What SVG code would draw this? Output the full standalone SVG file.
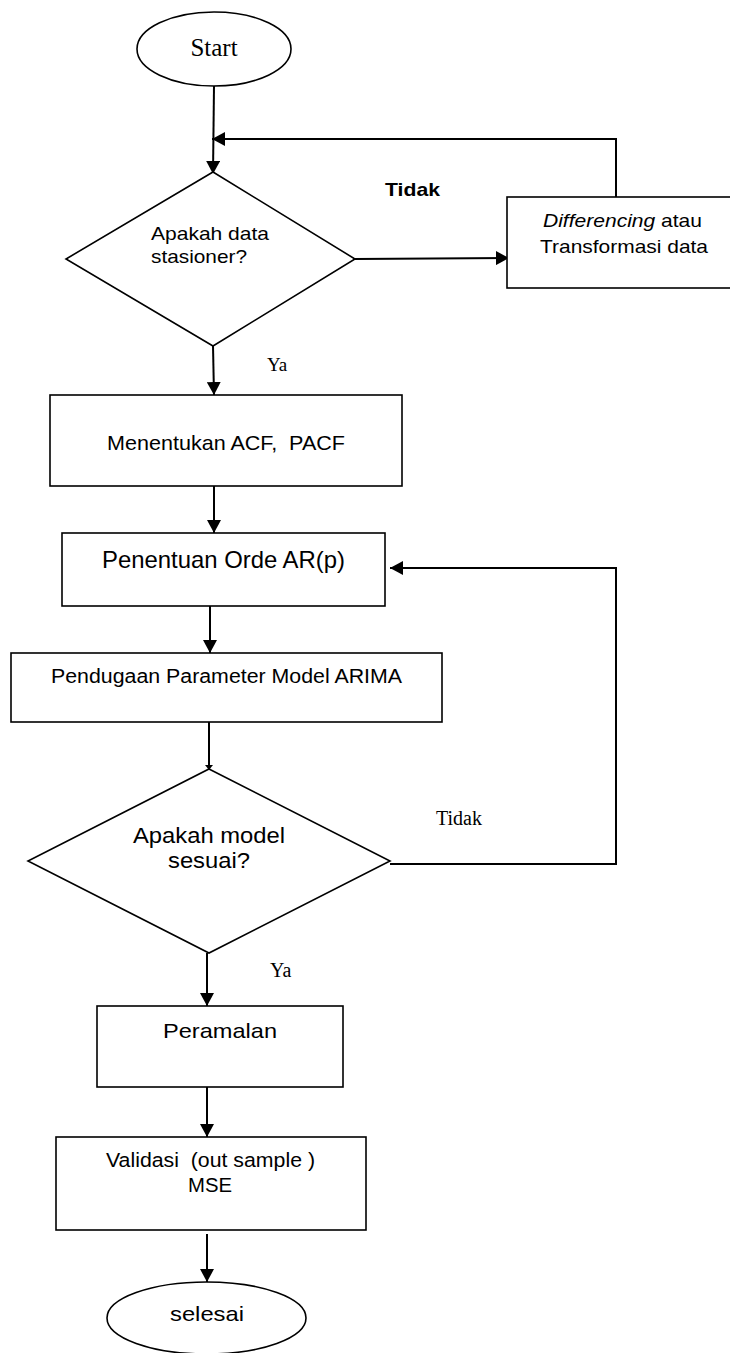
<svg xmlns="http://www.w3.org/2000/svg" width="730" height="1353" viewBox="0 0 730 1353">
<style>
.shape{fill:#fff;stroke:#000;stroke-width:1.6}
.conn{fill:none;stroke:#000;stroke-width:2}
.sans{font-family:"Liberation Sans",Arial,sans-serif;fill:#000}
.serif{font-family:"Liberation Serif","Times New Roman",serif;fill:#000}
</style>
<defs>
<marker id="arr" markerUnits="userSpaceOnUse" markerWidth="14" markerHeight="14" refX="13" refY="7" orient="auto">
<path d="M0,0 L13,7 L0,14 Z" fill="#000"/>
</marker>
<marker id="arrs" markerUnits="userSpaceOnUse" markerWidth="6" markerHeight="8" refX="5" refY="4" orient="auto">
<path d="M0,0 L5,4 L0,8 Z" fill="#000"/>
</marker>
</defs>
<rect width="730" height="1353" fill="#fff"/>
<g id="connectors">
<line class="conn" x1="214" y1="86" x2="213" y2="174" marker-end="url(#arr)"/>
<polyline class="conn" points="616,197 616,139 212,139" marker-end="url(#arr)"/>
<line class="conn" x1="355" y1="259" x2="509" y2="258" marker-end="url(#arr)"/>
<line class="conn" x1="213" y1="346" x2="214" y2="395" marker-end="url(#arr)"/>
<line class="conn" x1="214" y1="486" x2="214" y2="533" marker-end="url(#arr)"/>
<line class="conn" x1="210" y1="606" x2="210" y2="653" marker-end="url(#arr)"/>
<line class="conn" x1="209" y1="722" x2="209" y2="770" marker-end="url(#arrs)"/>
<polyline class="conn" points="390,864 616,864 616,568 390,568" marker-end="url(#arr)"/>
<line class="conn" x1="207" y1="953" x2="207" y2="1006" marker-end="url(#arr)"/>
<line class="conn" x1="207" y1="1087" x2="207" y2="1137" marker-end="url(#arr)"/>
<line class="conn" x1="207" y1="1234" x2="207" y2="1282" marker-end="url(#arr)"/>
</g>
<g id="label-tidak1"><text class="sans" x="385" y="196" font-size="19" font-weight="bold" textLength="55" lengthAdjust="spacingAndGlyphs">Tidak</text></g>
<g id="label-ya1"><text class="serif" x="267" y="371" font-size="19">Ya</text></g>
<g id="label-tidak2"><text class="serif" x="436" y="825" font-size="20">Tidak</text></g>
<g id="label-ya2"><text class="serif" x="270" y="977" font-size="20">Ya</text></g>
<g id="start">
<ellipse class="shape" cx="214" cy="49" rx="77" ry="37"/>
<text class="serif" x="214" y="56" font-size="25" text-anchor="middle">Start</text>
</g>
<g id="decision1">
<polygon class="shape" points="213,172 355,259 213,346 66,259"/>
<text class="sans" x="151" y="240" font-size="18.5" textLength="118" lengthAdjust="spacingAndGlyphs">Apakah data</text>
<text class="sans" x="151" y="263" font-size="18.5" textLength="96" lengthAdjust="spacingAndGlyphs">stasioner?</text>
</g>
<g id="differencing">
<rect class="shape" x="507" y="197" width="240" height="91"/>
<text class="sans" x="543" y="227" font-size="18.5" textLength="159" lengthAdjust="spacingAndGlyphs"><tspan font-style="italic">Differencing</tspan> atau</text>
<text class="sans" x="540" y="253" font-size="18.5" textLength="168" lengthAdjust="spacingAndGlyphs">Transformasi data</text>
</g>
<g id="acf">
<rect class="shape" x="50" y="395" width="352" height="91"/>
<text class="sans" x="107" y="450" font-size="21" textLength="238" lengthAdjust="spacingAndGlyphs" xml:space="preserve">Menentukan ACF,  PACF</text>
</g>
<g id="penentuan">
<rect class="shape" x="62" y="533" width="323" height="73"/>
<text class="sans" x="102" y="568" font-size="24" textLength="243" lengthAdjust="spacingAndGlyphs">Penentuan Orde AR(p)</text>
</g>
<g id="pendugaan">
<rect class="shape" x="11" y="653" width="431" height="69"/>
<text class="sans" x="51" y="683" font-size="19.5" textLength="351" lengthAdjust="spacingAndGlyphs">Pendugaan Parameter Model ARIMA</text>
</g>
<g id="decision2">
<polygon class="shape" points="209,769 390,861 209,953 28,861"/>
<text class="sans" x="133" y="843" font-size="22" textLength="152" lengthAdjust="spacingAndGlyphs">Apakah model</text>
<text class="sans" x="168" y="868" font-size="22" textLength="82" lengthAdjust="spacingAndGlyphs">sesuai?</text>
</g>
<g id="peramalan">
<rect class="shape" x="97" y="1006" width="246" height="81"/>
<text class="sans" x="163" y="1038" font-size="21" textLength="114" lengthAdjust="spacingAndGlyphs">Peramalan</text>
</g>
<g id="validasi">
<rect class="shape" x="56" y="1137" width="310" height="93"/>
<text class="sans" x="106" y="1167" font-size="20.5" textLength="209" lengthAdjust="spacingAndGlyphs" xml:space="preserve">Validasi  (out sample )</text>
<text class="sans" x="188" y="1192" font-size="20.5" textLength="44" lengthAdjust="spacingAndGlyphs">MSE</text>
</g>
<g id="selesai">
<ellipse class="shape" cx="206.5" cy="1318" rx="99.5" ry="36"/>
<text class="sans" x="170" y="1321" font-size="21" textLength="74" lengthAdjust="spacingAndGlyphs">selesai</text>
</g>
</svg>
